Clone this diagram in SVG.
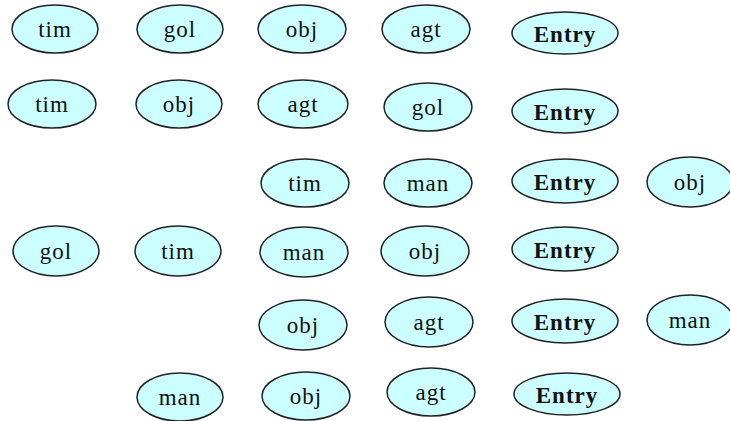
<svg xmlns="http://www.w3.org/2000/svg" width="730" height="421" viewBox="0 0 730 421">
  <style>
    .n ellipse { fill: #ccffff; stroke: #222222; stroke-width: 1.5; }
    .n text { font-family: "Liberation Serif", "DejaVu Serif", serif; font-size: 23px; fill: #111111; text-anchor: middle; letter-spacing: 1px; }
    .e ellipse { fill: #ccffff; stroke: #222222; stroke-width: 1.5; }
    .e text { font-family: "Liberation Serif", "DejaVu Serif", serif; font-size: 23px; font-weight: bold; fill: #111111; text-anchor: middle; letter-spacing: 1px; }
  </style>
  <rect width="730" height="421" fill="#ffffff"/>
  <g id="connectors"/>

  <!-- row 1 -->
  <g id="r1_tim" class="n"><ellipse cx="55" cy="29" rx="43" ry="24"/><text x="55" y="37">tim</text></g>
  <g id="r1_gol" class="n"><ellipse cx="180" cy="29" rx="43" ry="24"/><text x="180" y="37">gol</text></g>
  <g id="r1_obj" class="n"><ellipse cx="302" cy="29" rx="44" ry="24"/><text x="302" y="37">obj</text></g>
  <g id="r1_agt" class="n"><ellipse cx="426" cy="29" rx="44" ry="24"/><text x="426" y="37">agt</text></g>
  <g id="r1_entry" class="e"><ellipse cx="565" cy="33" rx="53" ry="21"/><text x="565" y="42">Entry</text></g>

  <!-- row 2 -->
  <g id="r2_tim" class="n"><ellipse cx="52" cy="104" rx="44" ry="24"/><text x="52" y="112">tim</text></g>
  <g id="r2_obj" class="n"><ellipse cx="179" cy="104" rx="43" ry="24"/><text x="179" y="112">obj</text></g>
  <g id="r2_agt" class="n"><ellipse cx="303" cy="104" rx="45" ry="24"/><text x="303" y="112">agt</text></g>
  <g id="r2_gol" class="n"><ellipse cx="428" cy="107" rx="44" ry="24"/><text x="428" y="115">gol</text></g>
  <g id="r2_entry" class="e"><ellipse cx="565" cy="111" rx="53" ry="22"/><text x="565" y="120">Entry</text></g>

  <!-- row 3 -->
  <g id="r3_tim" class="n"><ellipse cx="305" cy="183" rx="44" ry="24"/><text x="305" y="191">tim</text></g>
  <g id="r3_man" class="n"><ellipse cx="428" cy="183" rx="44" ry="24"/><text x="428" y="191">man</text></g>
  <g id="r3_entry" class="e"><ellipse cx="565" cy="181" rx="53" ry="22"/><text x="565" y="190">Entry</text></g>
  <g id="r3_obj" class="n"><ellipse cx="690" cy="182" rx="43" ry="25"/><text x="690" y="190">obj</text></g>

  <!-- row 4 -->
  <g id="r4_gol" class="n"><ellipse cx="56" cy="251" rx="43" ry="25"/><text x="56" y="259">gol</text></g>
  <g id="r4_tim" class="n"><ellipse cx="178" cy="251" rx="43" ry="25"/><text x="178" y="259">tim</text></g>
  <g id="r4_man" class="n"><ellipse cx="304" cy="252" rx="44" ry="25"/><text x="304" y="260">man</text></g>
  <g id="r4_obj" class="n"><ellipse cx="425" cy="251" rx="44" ry="25"/><text x="425" y="259">obj</text></g>
  <g id="r4_entry" class="e"><ellipse cx="565" cy="249" rx="53" ry="22"/><text x="565" y="258">Entry</text></g>

  <!-- row 5 -->
  <g id="r5_obj" class="n"><ellipse cx="303" cy="325" rx="44" ry="25"/><text x="303" y="333">obj</text></g>
  <g id="r5_agt" class="n"><ellipse cx="429" cy="322" rx="44" ry="25"/><text x="429" y="330">agt</text></g>
  <g id="r5_entry" class="e"><ellipse cx="565" cy="321" rx="53" ry="22"/><text x="565" y="330">Entry</text></g>
  <g id="r5_man" class="n"><ellipse cx="690" cy="320" rx="43" ry="25"/><text x="690" y="328">man</text></g>

  <!-- row 6 -->
  <g id="r6_man" class="n"><ellipse cx="180" cy="397" rx="43" ry="24"/><text x="180" y="405">man</text></g>
  <g id="r6_obj" class="n"><ellipse cx="306" cy="396" rx="44" ry="24"/><text x="306" y="404">obj</text></g>
  <g id="r6_agt" class="n"><ellipse cx="431" cy="392" rx="44" ry="24"/><text x="431" y="400">agt</text></g>
  <g id="r6_entry" class="e"><ellipse cx="567" cy="394" rx="53" ry="21"/><text x="567" y="403">Entry</text></g>
</svg>
